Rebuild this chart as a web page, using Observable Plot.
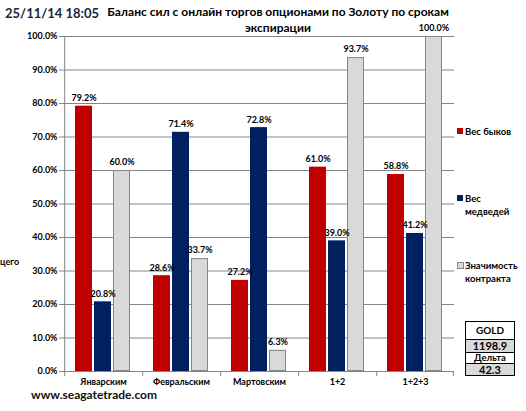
<!DOCTYPE html>
<html>
<head>
<meta charset="utf-8">
<script src="https://cdn.jsdelivr.net/npm/d3@7"></script>
<script src="https://cdn.jsdelivr.net/npm/@observablehq/plot@0.6"></script>
<style>
  body { margin: 0; background: #fff; }
  #wrap { position: relative; width: 526px; height: 411px; overflow: hidden; font-family: Lato, "DejaVu Sans", sans-serif; color: #000; }
  .abs { position: absolute; white-space: nowrap; }
  #date { left: 5px; top: 5px; font-size: 13px; font-weight: bold; color: #17263f; }
  #title { left: 100px; width: 356px; top: 4px; font-size: 12px; font-weight: bold; text-align: center; line-height: 16px; }
  #footer { left: 31px; top: 388px; font-size: 12px; line-height: 14px; font-weight: bold; color: #111; }
  #cut { left: 0px; top: 256px; font-size: 9px; font-weight: bold; }
  .leg { position: absolute; left: 457px; font-size: 9.5px; font-weight: bold; line-height: 13px; }
  .sw { position: absolute; left: 0; width: 6px; height: 6px; }
  .leg span.t { display: block; margin-left: 8px; }
  #gold { position: absolute; left: 465px; top: 321px; width: 48px; border: 1px solid #000; font-weight: bold; text-align: center; }
  #gold div { border-bottom: 1px solid #000; overflow: hidden; }
  #gold div:last-child { border-bottom: none; }
</style>
</head>
<body>
<div id="wrap"></div>
<script>
const categories = ["Январским", "Февральским", "Мартовским", "1+2", "1+2+3"];
const seriesNames = ["Вес быков", "Вес медведей", "Значимость контракта"];
const bulls = [79.2, 28.6, 27.2, 61.0, 58.8];
const bears = [20.8, 71.4, 72.8, 39.0, 41.2];
const significance = [60.0, 33.7, 6.3, 93.7, 100.0];
const yTicks = [0, 10, 20, 30, 40, 50, 60, 70, 80, 90, 100];
const colors = ["#c00000", "#002060", "#d9d9d9"];
const titleLines = ["Баланс сил с онлайн торгов опционами по Золоту по срокам", "экспирации"];
const dateText = "25/11/14 18:05";
const footerText = "www.seagatetrade.com";
const goldRows = ["GOLD", "1198.9", "Дельта", "42.3"];

const seriesValues = [bulls, bears, significance];
const data = categories.flatMap((cat, i) =>
  seriesNames.map((s, j) => ({cat, series: s, value: seriesValues[j][i]}))
);
const sigData = data.filter(d => d.series === seriesNames[2]);
const grid = "#868686";

const chart = Plot.plot({
  width: 526,
  height: 411,
  marginLeft: 62,
  marginRight: 71,
  marginTop: 36,
  marginBottom: 40,
  style: {fontFamily: "Lato, 'DejaVu Sans', sans-serif", background: "transparent"},
  fx: {domain: categories, padding: 0, label: null},
  x: {domain: seriesNames, paddingInner: 0.1, paddingOuter: 0.515, axis: null},
  y: {domain: [0, 100]},
  color: {domain: seriesNames, range: colors},
  marks: [
    Plot.gridY({ticks: yTicks, stroke: grid, strokeOpacity: 1}),
    Plot.barY(data, {fx: "cat", x: "series", y: "value", fill: "series"}),
    Plot.barY(sigData, {fx: "cat", x: "series", y: "value", fill: "none", stroke: grid, strokeWidth: 1, inset: 0.5}),
    Plot.ruleY([0], {stroke: grid}),
    Plot.ruleX([categories[0]], {fx: d => d, x: () => seriesNames[0], y1: 0, y2: 100, dx: -19.3, stroke: grid}),
    Plot.ruleX(categories, {fx: d => d, x: () => seriesNames[0], y1: 0, y2: 0, insetBottom: -5, dx: -19.3, stroke: grid}),
    Plot.ruleX([categories[categories.length - 1]], {fx: d => d, x: () => seriesNames[2], y1: 0, y2: 0, insetBottom: -5, dx: 19.3, stroke: grid}),
    Plot.text(data, {fx: "cat", x: "series", y: "value", text: d => d.value.toFixed(1) + "%", dy: -8, fontSize: 9, fontWeight: "bold", fill: "#000"}),
    Plot.axisY({ticks: yTicks, tickFormat: d => d.toFixed(1) + "%", tickSize: 5, tickPadding: 2, label: null, fontSize: 9, fontWeight: "bold", stroke: grid, color: "#000"}),
    Plot.axisFx({anchor: "bottom", tickSize: 0, tickPadding: 7, label: null, fontSize: 9, fontWeight: "bold"})
  ]
});

const wrap = document.getElementById("wrap");
chart.style.position = "absolute";
chart.style.left = "0px";
chart.style.top = "0px";
wrap.appendChild(chart);

function add(id, html) {
  const d = document.createElement("div");
  d.className = "abs";
  d.id = id;
  d.innerHTML = html;
  wrap.appendChild(d);
  return d;
}
add("date", dateText);
add("title", titleLines.join("<br>"));
add("footer", footerText);
add("cut", "цего");

const legendTops = [125, 192, 259];
const legendLines = [["Вес быков"], ["Вес", "медведей"], ["Значимость", "контракта"]];
seriesNames.forEach((s, i) => {
  const l = document.createElement("div");
  l.className = "leg";
  l.style.top = legendTops[i] + "px";
  const sw = document.createElement("div");
  sw.className = "sw";
  sw.style.top = "3px";
  sw.style.background = colors[i];
  if (i === 2) { sw.style.border = "1px solid " + grid; sw.style.width = "5px"; sw.style.height = "5px"; }
  l.appendChild(sw);
  legendLines[i].forEach(t => {
    const sp = document.createElement("span");
    sp.className = "t";
    sp.textContent = t;
    l.appendChild(sp);
  });
  wrap.appendChild(l);
});

const gold = document.createElement("div");
gold.id = "gold";
const rowH = [17, 12, 10, 11];
const rowBg = ["#fff", "#d9d9d9", "#fff", "#d9d9d9"];
const rowFs = [10, 11, 9.5, 11];
goldRows.forEach((t, i) => {
  const r = document.createElement("div");
  r.textContent = t;
  r.style.height = rowH[i] + "px";
  r.style.lineHeight = rowH[i] + "px";
  r.style.background = rowBg[i];
  r.style.fontSize = rowFs[i] + "px";
  gold.appendChild(r);
});
wrap.appendChild(gold);
</script>
</body>
</html>
